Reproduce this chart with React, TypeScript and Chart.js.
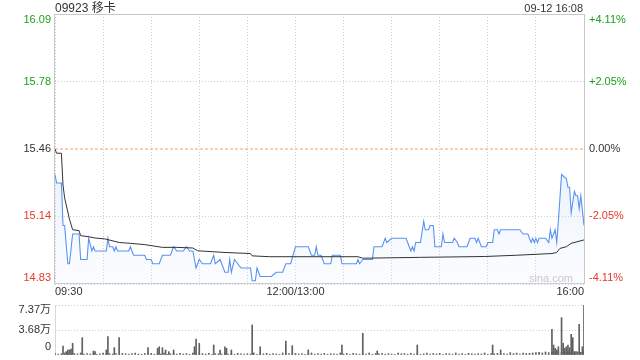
import React, { useEffect, useRef } from 'react';
import { Chart, registerables } from 'chart.js';
Chart.register(...registerables);

const TITLE = '09923 移卡';
const TIMESTAMP = '09-12 16:08';
const PREV_CLOSE = 15.46;
const pctTicks = [4.11, 2.05, 0, -2.05, -4.11];
const priceTickLabels = ['16.09', '15.78', '15.46', '15.14', '14.83'];
const pctTickLabels = ['+4.11%', '+2.05%', '0.00%', '-2.05%', '-4.11%'];
const tickColors = ['#1a9f1a', '#1a9f1a', '#333333', '#e8372c', '#e8372c'];
const timeLabels = ['09:30', '12:00/13:00', '16:00'];
const timeLabelMinutes = [0, 150, 330];
const volTickValues = [7.37, 3.68, 0];
const volTickLabels = ['7.37万', '3.68万', '0'];

// minutes since 09:30 (lunch break removed), price
const priceMinutes = [0,1,4,5,6,8,9,11,15,16,20,21,23,24,25,32,33,34,36,37,38,39,46,47,49,56,57,60,61,65,67,72,74,76,80,82,84,86,88,90,92,97,99,100,103,106,108,109,110,112,114,116,122,123,125,126,128,135,138,142,144,147,150,158,160,162,163,164,166,168,172,173,178,179,188,189,190,192,198,199,204,206,207,210,219,221,222,223,224,225,228,230,231,233,234,236,237,241,242,243,248,249,251,252,257,259,262,263,264,266,269,270,273,274,276,277,278,290,292,295,297,298,299,300,301,302,306,308,309,310,312,313,314,316,319,320,321,322,324,325,326,327,328,330];
const priceValues = [15.34,15.30,15.30,15.10,15.10,14.92,14.92,15.06,15.06,14.94,14.94,15.04,14.98,15.00,14.98,14.98,15.04,15.00,15.00,14.98,15.00,14.98,14.98,15.00,14.96,14.96,14.94,14.94,14.92,14.92,14.96,14.96,15.00,14.98,14.98,15.00,14.98,14.98,14.90,14.94,14.92,14.92,14.96,14.92,14.94,14.88,14.88,14.94,14.88,14.94,14.92,14.90,14.90,14.84,14.84,14.90,14.86,14.86,14.88,14.88,14.92,14.92,15.00,15.00,14.96,14.96,15.00,14.96,14.96,14.92,14.92,14.96,14.96,14.92,14.92,14.94,14.92,14.94,14.94,15.00,15.00,15.04,15.02,15.04,15.04,15.00,14.98,15.00,14.98,15.02,15.02,15.12,15.08,15.08,15.10,15.10,15.00,15.00,15.06,15.02,15.02,15.04,15.02,15.00,15.00,15.04,15.04,15.02,15.04,15.00,15.00,15.02,15.02,15.08,15.08,15.06,15.08,15.08,15.06,15.06,15.02,15.04,15.02,15.04,15.02,15.04,15.04,15.02,15.08,15.04,15.08,15.02,15.12,15.34,15.32,15.28,15.28,15.16,15.26,15.24,15.24,15.18,15.24,15.10];

const avgMinutes = [0,1,4,5,6,9,11,15,16,21,25,31,40,47,56,67,76,86,89,106,122,123,134,189,192,228,268,288,310,313,315,319,322,325,330];
const avgValues = [15.46,15.44,15.44,15.29,15.23,15.13,15.08,15.076,15.052,15.047,15.041,15.037,15.02,15.016,15.01,14.997,14.997,14.994,14.981,14.973,14.968,14.957,14.953,14.953,14.946,14.95,14.954,14.96,14.968,14.973,14.992,15.0,15.016,15.022,15.032];

// volume in 万 shares
const bigVolMinutes = [5,7,8,9,10,11,17,24,25,32,33,37,40,58,64,65,67,69,71,74,87,88,90,99,103,106,107,110,123,128,144,148,158,179,192,201,226,273,278,310,311,312,313,314,316,317,318,319,320,321,322,323,324,325,327,329,330];
const bigVolValues = [1.33,0.49,0.74,0.74,0.88,1.72,2.55,0.59,0.49,0.74,2.70,1.08,2.55,1.08,0.99,1.22,1.08,0.74,0.49,0.74,1.22,2.36,1.72,1.47,0.74,1.22,0.99,0.74,4.42,1.22,2.06,1.37,0.74,1.47,3.20,0.59,1.47,1.47,0.74,3.79,1.47,0.99,0.74,1.22,5.50,1.72,0.99,1.22,1.47,1.08,3.05,2.55,0.25,0.49,4.52,1.22,7.37];
// small trades, one value every 2 minutes from 09:30
const smallVolValues = [0.25,0.12,0.2,0.3,0.15,0.1,0.22,0.18,0.3,0.12,
0.2,0.15,0.25,0.1,0.18,0.3,0.12,0.2,0.15,0.22,
0.1,0.25,0.18,0.12,0.2,0.3,0.15,0.1,0.22,0.18,
0.25,0.12,0.2,0.15,0.3,0.1,0.18,0.22,0.12,0.25,
0.15,0.2,0.1,0.3,0.18,0.12,0.22,0.15,0.25,0.1,
0.2,0.18,0.12,0.3,0.15,0.22,0.1,0.25,0.18,0.12,
0.2,0.15,0.3,0.1,0.22,0.18,0.25,0.12,0.2,0.15,
0.1,0.3,0.18,0.22,0.12,0.25,0.15,0.2,0.1,0.18,
0.3,0.12,0.22,0.15,0.25,0.1,0.2,0.18,0.12,0.3,
0.15,0.22,0.1,0.25,0.18,0.12,0.2,0.15,0.3,0.1,
0.22,0.18,0.25,0.12,0.2,0.15,0.1,0.3,0.18,0.22,
0.12,0.25,0.15,0.2,0.1,0.18,0.3,0.12,0.22,0.15,
0.25,0.1,0.2,0.18,0.12,0.3,0.15,0.22,0.1,0.25,
0.18,0.12,0.2,0.15,0.3,0.1,0.22,0.18,0.25,0.12,
0.2,0.15,0.35,0.2,0.28,0.15,0.3,0.22,0.25,0.3,
0.35,0.4,0.3,0.45,0.35,0.4,0.3,0.5,0.4,0.35,
0.45,0.4,0.5,0.45,0.4,0.6];

const FONT = '"Liberation Sans", Arial, "Noto Sans CJK SC", sans-serif';
const priceTickValues = pctTicks.map((p) => PREV_CLOSE * (1 + p / 100));
const Y_MAX = priceTickValues[0];
const Y_MIN = priceTickValues[priceTickValues.length - 1];
const GRID = '#cdcdcd';

const clamp = (v: number, a: number, b: number) => Math.min(Math.max(v, a), b);

export default function App() {
  const priceRef = useRef<HTMLCanvasElement>(null);
  const volRef = useRef<HTMLCanvasElement>(null);

  useEffect(() => {
    const frame = {
      id: 'frame',
      beforeDatasetsDraw(chart: any) {
        const { ctx, chartArea: a } = chart;
        ctx.save();
        ctx.strokeStyle = '#c8c8c8';
        ctx.lineWidth = 1;
        const x0 = Math.floor(a.left) - 0.5;
        const x1 = Math.floor(a.right) + 0.5;
        const y0 = Math.floor(a.top) + 0.5;
        const y1 = Math.ceil(a.bottom) - 0.5;
        ctx.strokeRect(x0, y0, x1 - x0, y1 - y0);
        ctx.restore();
      },
    };
    const priceText = {
      id: 'priceText',
      afterDraw(chart: any) {
        const { ctx, chartArea: a } = chart;
        const ys = chart.scales.y;
        const xs = chart.scales.x;
        ctx.save();
        ctx.textBaseline = 'middle';
        ctx.fillStyle = '#333';
        ctx.font = '12px ' + FONT;
        ctx.textAlign = 'left';
        ctx.fillText(TITLE, a.left, 8.5);
        ctx.font = '11px ' + FONT;
        ctx.textAlign = 'right';
        ctx.fillText(TIMESTAMP, a.right - 1, 8.5);
        priceTickValues.forEach((v, i) => {
          const y = clamp(ys.getPixelForValue(v), a.top + 6, a.bottom - 6);
          ctx.fillStyle = tickColors[i];
          ctx.textAlign = 'right';
          ctx.fillText(priceTickLabels[i], a.left - 4, y);
          ctx.textAlign = 'left';
          ctx.fillText(pctTickLabels[i], a.right + 5, y);
        });
        ctx.fillStyle = '#333';
        timeLabels.forEach((t, i) => {
          const x = xs.getPixelForValue(timeLabelMinutes[i]);
          ctx.textAlign = i === 0 ? 'left' : i === timeLabels.length - 1 ? 'right' : 'center';
          ctx.fillText(t, x, 292);
        });
        ctx.font = '11px ' + FONT;
        ctx.fillStyle = '#c8c8c8';
        ctx.textAlign = 'right';
        ctx.fillText('sina.com', a.right - 11, a.bottom - 5);
        ctx.restore();
      },
    };
    const volText = {
      id: 'volText',
      afterDraw(chart: any) {
        const { ctx, chartArea: a } = chart;
        const ys = chart.scales.y;
        ctx.save();
        ctx.textBaseline = 'middle';
        ctx.fillStyle = '#333';
        ctx.font = '11px ' + FONT;
        ctx.textAlign = 'right';
        volTickValues.forEach((v, i) => {
          const y = clamp(ys.getPixelForValue(v), a.top + 5, a.bottom - 8);
          ctx.fillText(volTickLabels[i], a.left - 4, y);
        });
        ctx.restore();
      },
    };

    const dotted = [1, 2];
    const price = new Chart(priceRef.current as HTMLCanvasElement, {
      type: 'line',
      data: {
        datasets: [
          {
            label: '均价',
            data: avgMinutes.map((m, i) => ({ x: m, y: avgValues[i] })),
            borderColor: '#333333',
            borderWidth: 1,
            pointRadius: 0,
            fill: false,
            tension: 0,
            order: 0,
          },
          {
            label: '价格',
            data: priceMinutes.map((m, i) => ({ x: m, y: priceValues[i] })),
            borderColor: '#5a92f2',
            borderWidth: 1.1,
            pointRadius: 0,
            tension: 0,
            fill: 'start',
            backgroundColor: (c: any) => {
              const { ctx, chartArea } = c.chart;
              if (!chartArea) return 'rgba(0,0,0,0)';
              const g = ctx.createLinearGradient(0, chartArea.top, 0, chartArea.bottom);
              g.addColorStop(0, 'rgba(150,185,245,0.55)');
              g.addColorStop(1, 'rgba(225,235,252,0.15)');
              return g;
            },
            order: 1,
          },
          {
            label: '昨收',
            data: [{ x: 0, y: PREV_CLOSE }, { x: 330, y: PREV_CLOSE }],
            borderColor: '#f4a06a',
            borderWidth: 1,
            borderDash: [3, 2],
            pointRadius: 0,
            fill: false,
            order: 2,
          },
        ],
      } as any,
      options: {
        animation: false,
        responsive: false,
        maintainAspectRatio: false,
        layout: { padding: { top: 14, bottom: 16, left: 0, right: 56 } },
        plugins: { legend: { display: false }, tooltip: { enabled: false } },
        scales: {
          x: {
            type: 'linear',
            min: 0,
            max: 330,
            ticks: { display: false, stepSize: 30 },
            grid: { color: GRID, drawTicks: false },
            border: { display: false, dash: dotted },
            afterFit: (s: any) => { s.height = 0; },
          },
          y: {
            type: 'linear',
            min: Y_MIN,
            max: Y_MAX,
            afterBuildTicks: (s: any) => { s.ticks = priceTickValues.map((v) => ({ value: v })); },
            ticks: { display: false },
            grid: {
              color: (c: any) => (c.tick && Math.abs(c.tick.value - PREV_CLOSE) < 1e-6 ? 'rgba(0,0,0,0)' : GRID),
              drawTicks: false,
            },
            border: { display: false, dash: dotted },
            afterFit: (s: any) => { s.width = 55; },
          },
        },
      } as any,
      plugins: [frame, priceText],
    });

    const volData = [
      ...smallVolValues.map((v, i) => ({ x: i * 2, y: v })),
      ...bigVolMinutes.map((m, i) => ({ x: m, y: bigVolValues[i] })),
    ].sort((p, q) => p.x - q.x);

    const vol = new Chart(volRef.current as HTMLCanvasElement, {
      type: 'bar',
      data: {
        datasets: [
          {
            label: '成交量',
            data: volData,
            backgroundColor: '#606060',
            barThickness: 1,
            grouped: false,
          },
        ],
      } as any,
      options: {
        animation: false,
        responsive: false,
        maintainAspectRatio: false,
        layout: { padding: { top: 5, bottom: 5, left: 0, right: 56 } },
        plugins: { legend: { display: false }, tooltip: { enabled: false } },
        scales: {
          x: {
            type: 'linear',
            min: 0,
            max: 330,
            offset: false,
            ticks: { display: false },
            grid: { display: false, offset: false },
            border: { display: false },
            afterFit: (s: any) => { s.height = 0; },
          },
          y: {
            type: 'linear',
            min: 0,
            max: volTickValues[0],
            afterBuildTicks: (s: any) => { s.ticks = volTickValues.map((v) => ({ value: v })); },
            ticks: { display: false },
            grid: {
              color: (c: any) => (c.tick && c.tick.value === 0 ? 'rgba(0,0,0,0)' : GRID),
              drawTicks: false,
            },
            border: { display: true, color: '#d8d8d8', dash: dotted },
            afterFit: (s: any) => { s.width = 55; },
          },
        },
      } as any,
      plugins: [volText],
    });

    return () => {
      price.destroy();
      vol.destroy();
    };
  }, []);

  return (
    <div style={{ position: 'absolute', left: 0, top: 0, width: 640, height: 360, background: '#fff' }}>
      <canvas ref={priceRef} width={640} height={300} style={{ position: 'absolute', left: 0, top: 0, width: 640, height: 300 }} />
      <canvas ref={volRef} width={640} height={60} style={{ position: 'absolute', left: 0, top: 300, width: 640, height: 60 }} />
    </div>
  );
}
